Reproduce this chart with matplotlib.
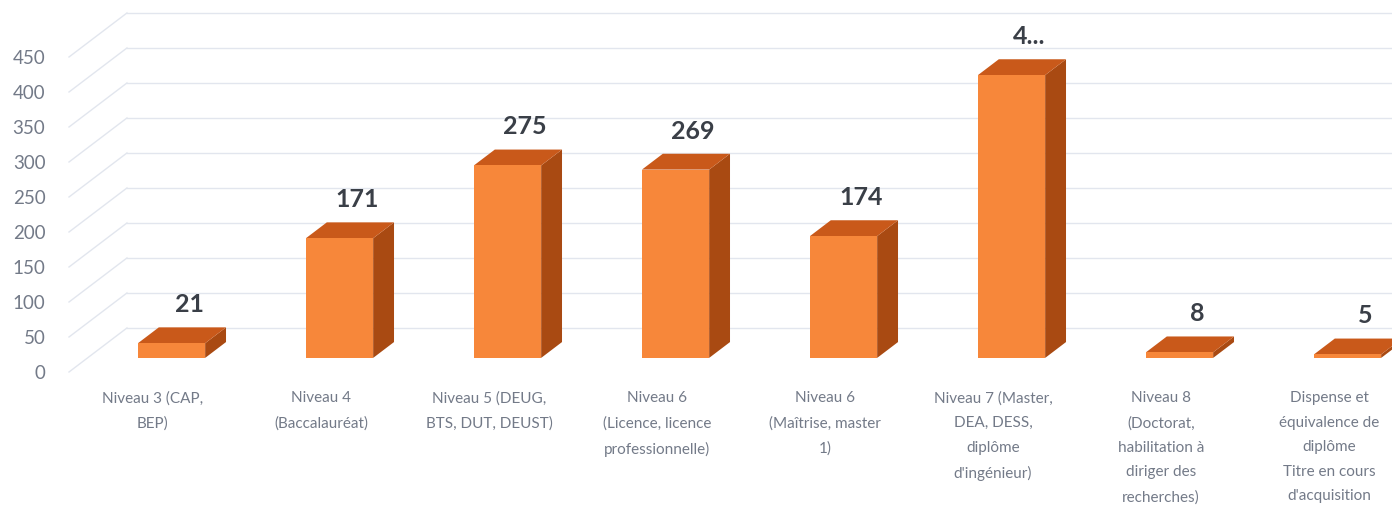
import matplotlib.pyplot as plt
from matplotlib.patches import Polygon

# --- data ---
categories = [
    "Niveau 3 (CAP,\nBEP)",
    "Niveau 4\n(Baccalauréat)",
    "Niveau 5 (DEUG,\nBTS, DUT, DEUST)",
    "Niveau 6\n(Licence, licence\nprofessionnelle)",
    "Niveau 6\n(Maîtrise, master\n1)",
    "Niveau 7 (Master,\nDEA, DESS,\ndiplôme\nd'ingénieur)",
    "Niveau 8\n(Doctorat,\nhabilitation à\ndiriger des\nrecherches)",
    "Dispense et\néquivalence de\ndiplôme\nTitre en cours\nd'acquisition",
]
values = [21, 171, 275, 269, 174, 404, 8, 5]
value_labels = ["21", "171", "275", "269", "174", "4...", "8", "5"]
yticks = [0, 50, 100, 150, 200, 250, 300, 350, 400, 450]

# --- fake 3D geometry (depth offsets in data units) ---
DX = 0.345   # x shift for full depth
DY = 62.9    # y shift for full depth
D_FRONT, D_BACK = 0.32, 0.68
BAR_W = 0.4

FRONT = "#F7873A"
TOP = "#C9591A"
SIDE = "#A94A12"
GRID = "#E2E6EE"
TXT = "#737A88"


def proj(x, y, d):
    return (x + DX * d, y + DY * d)


plt.rcParams["font.family"] = ["Lato", "DejaVu Sans"]

fig = plt.figure(figsize=(13.92, 5.09), dpi=100)
W, H = 1392, 509
x_left_px, x_right_px = 69, 1413
y_top_px, y_bot_px = 0, 372
ax = fig.add_axes([x_left_px / W, (H - y_bot_px) / H,
                   (x_right_px - x_left_px) / W, (y_bot_px - y_top_px) / H])
ax.set_xlim(-0.5, 7.5)
ax.set_ylim(0, 372 / 0.7)

# back wall gridlines + left wall slants
for v in yticks:
    x0, y0 = proj(-0.5, v, 0)
    x1, y1 = proj(-0.5, v, 1)
    ax.plot([x0, x1], [y0, y1], color=GRID, lw=1, zorder=1, clip_on=False)
    ax.plot([x1, 8.5], [y1, y1], color=GRID, lw=1, zorder=1, clip_on=False)

# bars
for i, v in enumerate(values):
    xl, xr = i - BAR_W / 2, i + BAR_W / 2
    front = [proj(xl, 0, D_FRONT), proj(xr, 0, D_FRONT),
             proj(xr, v, D_FRONT), proj(xl, v, D_FRONT)]
    side = [proj(xr, 0, D_FRONT), proj(xr, 0, D_BACK),
            proj(xr, v, D_BACK), proj(xr, v, D_FRONT)]
    top = [proj(xl, v, D_FRONT), proj(xr, v, D_FRONT),
           proj(xr, v, D_BACK), proj(xl, v, D_BACK)]
    ax.add_patch(Polygon(side, closed=True, fc=SIDE, ec="none", zorder=3, clip_on=False))
    ax.add_patch(Polygon(top, closed=True, fc=TOP, ec="none", zorder=3, clip_on=False))
    ax.add_patch(Polygon(front, closed=True, fc=FRONT, ec="none", zorder=4, clip_on=False))
    lx, ly = proj(i - 0.02, v, D_BACK)
    ax.annotate(value_labels[i], (lx, ly), xytext=(0, 8), textcoords="offset points",
                ha="center", va="bottom", fontsize=18, fontweight="bold",
                color="#3A3F47", zorder=5, annotation_clip=False)

ax.set_xticks(range(len(categories)))
ax.set_xticklabels(categories, fontsize=11, color=TXT, linespacing=1.95)
ax.set_yticks(yticks)
ax.set_yticklabels([str(t) for t in yticks], fontsize=13.5, color=TXT)
ax.tick_params(axis="x", length=0, pad=14)
ax.tick_params(axis="y", length=0, pad=17)
for s in ax.spines.values():
    s.set_visible(False)
ax.patch.set_alpha(0)

fig.savefig("out.png", dpi=100)
